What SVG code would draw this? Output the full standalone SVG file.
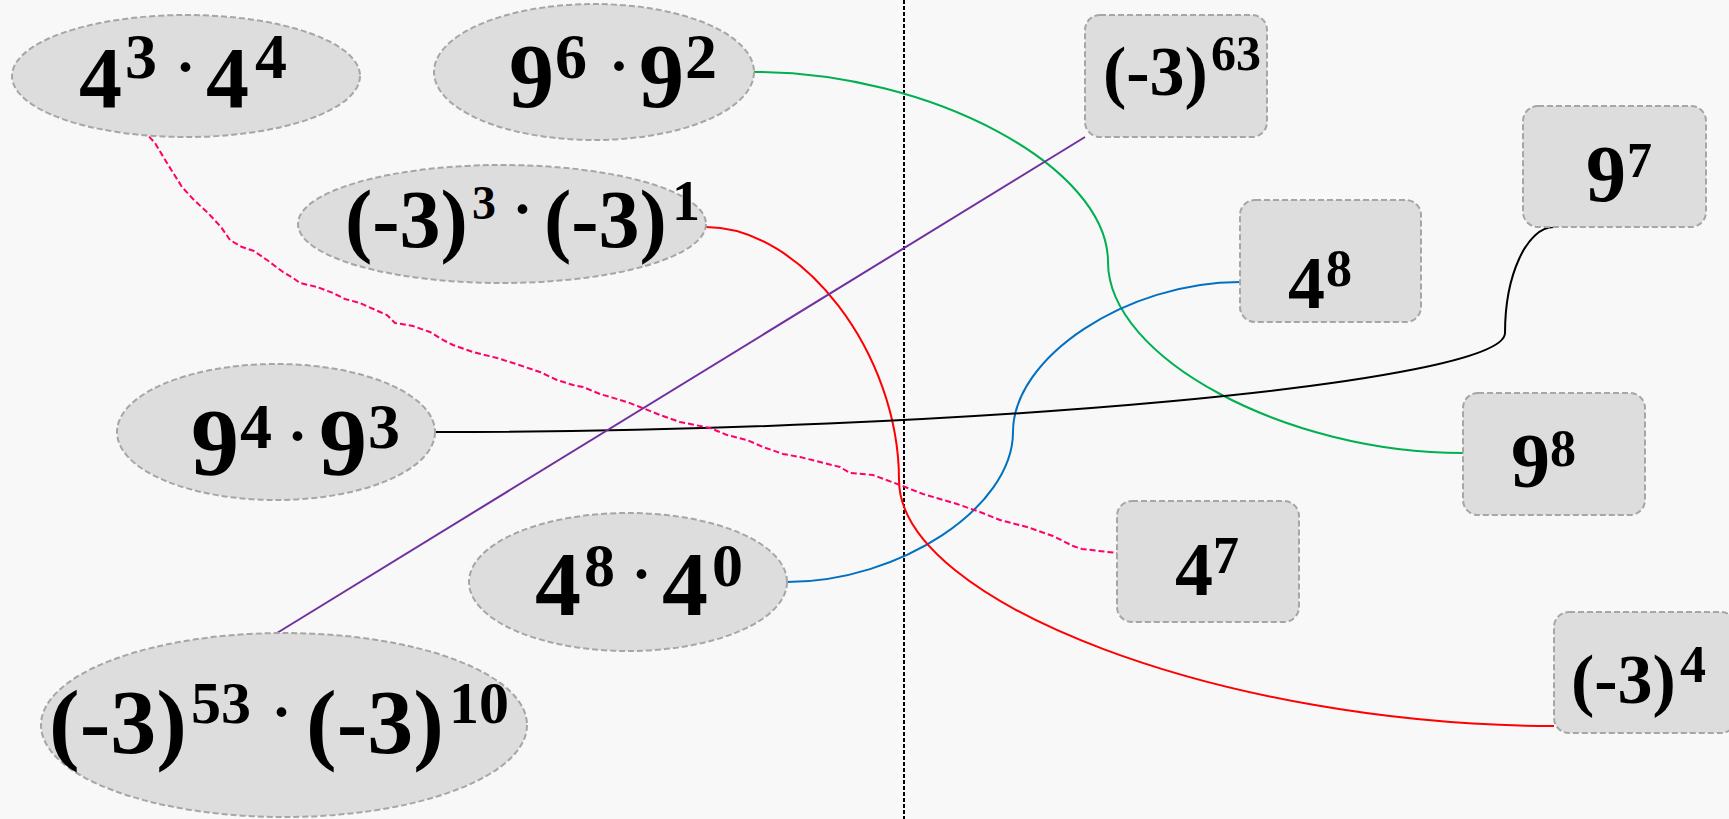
<svg xmlns="http://www.w3.org/2000/svg" width="1729" height="819" viewBox="0 0 1729 819">
<style>
.node{fill:#dddddd;stroke:#a6a6a6;stroke-width:2;stroke-dasharray:6 3}
.lbl{font-family:"Liberation Serif","Times New Roman",serif;font-weight:bold;fill:#000}
.dot{font-size:60px}
.conn{fill:none;stroke-width:2}
</style>
<rect x="0" y="0" width="1729" height="819" fill="#f8f8f8"/>
<g id="divider">
<line x1="904" y1="0" x2="904" y2="819" stroke="#000" stroke-width="2" stroke-dasharray="4 2"/>
</g>
<g id="connectors">
<path class="conn" stroke="#00b050" d="M754,72 C931,72 1108,167 1108,262 C1108,358 1286,453 1463,453"/>
<path class="conn" stroke="#0070c0" d="M787,582 C900,582 1013,507 1013,432 C1013,357 1127,282 1240,282"/>
<path class="conn" stroke="#ff0000" d="M706,227 C802,227 899,353 899,480 C899,603 1226,726 1554,726"/>
<path class="conn" stroke="#000000" d="M435,432 C970,432 1505,383 1505,333 C1505,275 1527,227 1554,227"/>
<path class="conn" stroke="#7030a0" d="M277,633 L1085,137"/>
<path class="conn" stroke="#ff0066" stroke-dasharray="6 3" d="M143,130 L155,143 L167,163 L182,187 L194,200 L208,213 L221,227 L230,240 L242,247 L254,251 L267,260 L283,272 L293,278 L300,283 L317,287 L333,293 L345,299 L360,303 L380,312 L387,315 L395,323 L413,326 L430,332 L443,340 L453,345 L473,352 L497,358 L513,363 L540,372 L557,380 L573,385 L583,387 L600,394 L627,402 L640,407 L660,415 L680,422 L710,428 L727,435 L747,440 L763,447 L783,454 L800,457 L820,462 L840,467 L850,473 L873,475 L900,485 L923,494 L957,504 L980,512 L1000,520 L1027,527 L1053,536 L1073,546 L1082,549 L1117,553"/>
</g>
<g id="nodeA">
<ellipse class="node" cx="186" cy="76" rx="174" ry="61"/>
<text class="lbl" font-size="86"><tspan x="79" y="107">4</tspan><tspan x="125" y="78" font-size="64">3</tspan><tspan class="dot" x="175.5" y="87">·</tspan><tspan x="206" y="107">4</tspan><tspan x="255" y="78" font-size="64">4</tspan></text>
</g>
<g id="nodeB">
<ellipse class="node" cx="594" cy="72" rx="160" ry="68"/>
<text class="lbl" font-size="90"><tspan x="509" y="107">9</tspan><tspan x="555" y="78" font-size="64">6</tspan><tspan class="dot" x="609" y="86">·</tspan><tspan x="639" y="107">9</tspan><tspan x="685" y="78" font-size="64">2</tspan></text>
</g>
<g id="nodeC">
<ellipse class="node" cx="502" cy="224" rx="204" ry="59"/>
<text class="lbl" font-size="82"><tspan x="345" y="247">(-3)</tspan><tspan x="472" y="219" font-size="48">3</tspan><tspan class="dot" x="512.5" y="229">·</tspan><tspan x="544" y="247">(-3)</tspan><tspan x="672" y="220" font-size="56">1</tspan></text>
</g>
<g id="nodeD">
<ellipse class="node" cx="276" cy="432" rx="159" ry="68"/>
<text class="lbl" font-size="96"><tspan x="191" y="475">9</tspan><tspan x="240" y="448" font-size="64">4</tspan><tspan class="dot" x="287.5" y="456">·</tspan><tspan x="319" y="475">9</tspan><tspan x="368" y="448" font-size="64">3</tspan></text>
</g>
<g id="nodeE">
<ellipse class="node" cx="284" cy="725" rx="243" ry="92"/>
<text class="lbl" font-size="92"><tspan x="49" y="753">(-3)</tspan><tspan x="191" y="723" font-size="60">53</tspan><tspan class="dot" x="271.5" y="732">·</tspan><tspan x="306" y="753">(-3)</tspan><tspan x="449" y="723" font-size="60">10</tspan></text>
</g>
<g id="nodeF">
<ellipse class="node" cx="628" cy="582" rx="159" ry="69"/>
<text class="lbl" font-size="92"><tspan x="535" y="615">4</tspan><tspan x="584" y="586" font-size="62">8</tspan><tspan class="dot" x="631.5" y="594">·</tspan><tspan x="662" y="615">4</tspan><tspan x="712" y="586" font-size="62">0</tspan></text>
</g>
<g id="nodeG">
<rect class="node" x="1085" y="15" width="182" height="122" rx="15"/>
<text class="lbl" font-size="70"><tspan x="1103" y="95">(-3)</tspan><tspan x="1211" y="70" font-size="50">63</tspan></text>
</g>
<g id="nodeH">
<rect class="node" x="1523" y="106" width="183" height="121" rx="15"/>
<text class="lbl" font-size="80"><tspan x="1586" y="201">9</tspan><tspan x="1627" y="177" font-size="50">7</tspan></text>
</g>
<g id="nodeI">
<rect class="node" x="1240" y="200" width="181" height="122" rx="15"/>
<text class="lbl" font-size="74"><tspan x="1288" y="308">4</tspan><tspan x="1326" y="286" font-size="52">8</tspan></text>
</g>
<g id="nodeJ">
<rect class="node" x="1554" y="612" width="182" height="121" rx="15"/>
<text class="lbl" font-size="70"><tspan x="1571" y="703">(-3)</tspan><tspan x="1680" y="682" font-size="52">4</tspan></text>
</g>
<g id="nodeK">
<rect class="node" x="1463" y="393" width="182" height="122" rx="15"/>
<text class="lbl" font-size="78"><tspan x="1511" y="487">9</tspan><tspan x="1550" y="466" font-size="52">8</tspan></text>
</g>
<g id="nodeL">
<rect class="node" x="1117" y="501" width="182" height="121" rx="15"/>
<text class="lbl" font-size="76"><tspan x="1175" y="595">4</tspan><tspan x="1213" y="573" font-size="52">7</tspan></text>
</g>
</svg>
